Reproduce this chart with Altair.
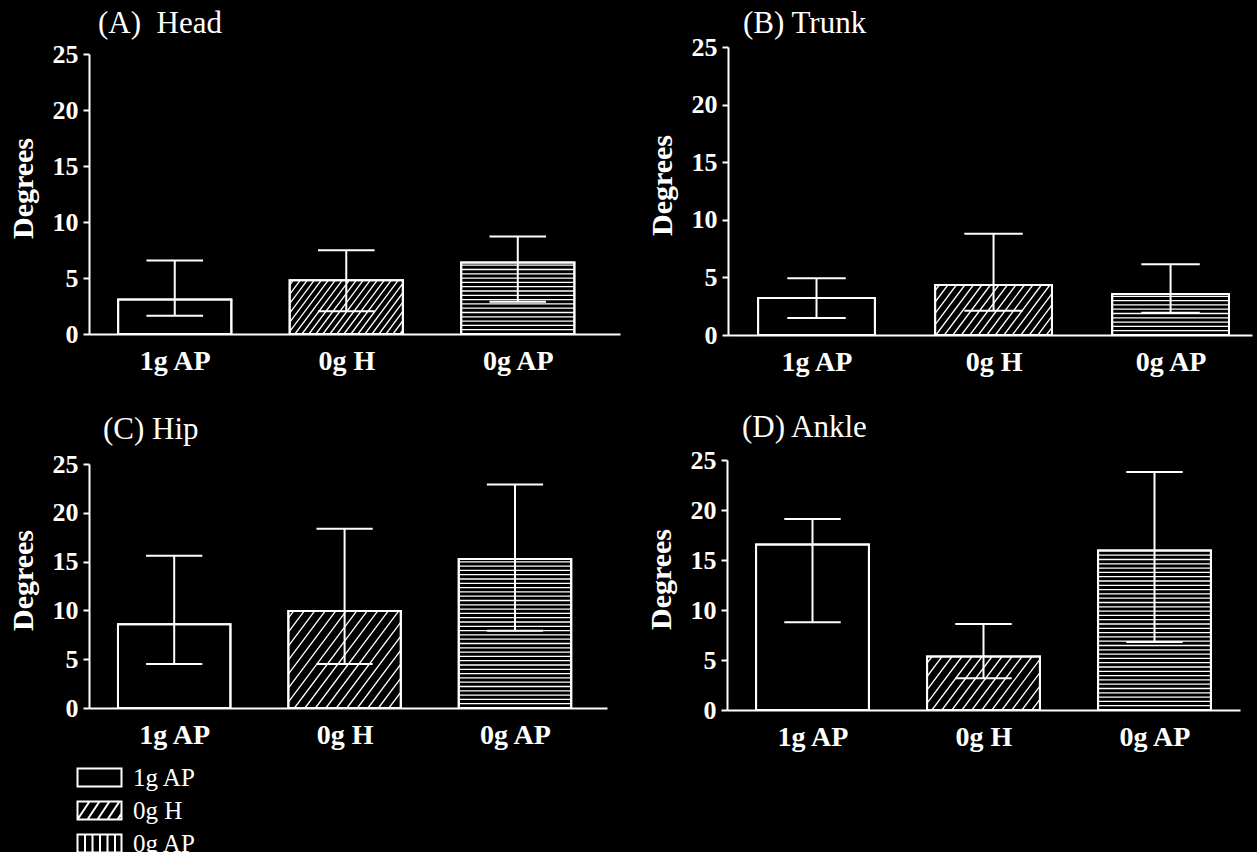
import json
import altair as alt
import pandas as pd

# ---------------- data ----------------
CATEGORIES = ["1g AP", "0g H", "0g AP"]
PANEL_TITLES = ["(A)\u00a0\u00a0Head", "(B) Trunk", "(C) Hip", "(D) Ankle"]
Y_TICKS = [0, 5, 10, 15, 20, 25]
Y_MAX = 25

HEAD_MEAN = [3.08, 4.79, 6.38]
HEAD_LOW = [1.64, 2.04, 2.87]
HEAD_HIGH = [6.56, 7.48, 8.70]

TRUNK_MEAN = [3.21, 4.34, 3.56]
TRUNK_LOW = [1.48, 2.11, 1.94]
TRUNK_HIGH = [4.92, 8.79, 6.14]

HIP_MEAN = [8.57, 9.93, 15.27]
HIP_LOW = [4.52, 4.52, 7.92]
HIP_HIGH = [15.6, 18.37, 22.9]

ANKLE_MEAN = [16.54, 5.35, 15.96]
ANKLE_LOW = [8.77, 3.18, 6.80]
ANKLE_HIGH = [19.1, 8.6, 23.8]

# ---------------- style ----------------
FONT = "Liberation Serif"
PATTERNS = ["none", "diagonal", "horizontal"]
BAR_HALF = 0.33
CAP_HALF = BAR_HALF / 2
H_SPACING_PX = 4.3
DIAG_SLOPE = 0.75  # horizontal px per vertical px

# h = axis height in px, top = empty px above the axis inside the view
LAYOUT = [
    dict(w=531, h=280, top=7, x1=3.596, diag=7.0, dx=9, offset=1),
    dict(w=524, h=288, top=0, x1=3.46, diag=8.5, dx=15, offset=-6),
    dict(w=518, h=244, top=4, x1=3.54, diag=10.5, dx=14, offset=5),
    dict(w=513, h=250, top=0, x1=3.50, diag=10.0, dx=15, offset=3),
]

# legend symbol paths (unit = sqrt(size)/2 px)
RECT = "M-2.2,-0.9H2.2V0.9H-2.2Z"
DIAG_PATH = RECT + "".join(
    f"M{b:.2f},0.9L{b + 1.2:.2f},-0.9" for b in [-2.2, -1.2, -0.2, 0.8]
) + "M1.8,0.9L2.2,0.3"
VERT_PATH = RECT + "".join(f"M{v:.2f},-0.9V0.9" for v in [-1.45, -0.7, 0.05, 0.8, 1.55])
LEGEND_PATHS = [RECT, DIAG_PATH, VERT_PATH]


def hatch_rows(pos, mean, pattern, lay, x0):
    sx = lay["w"] / (lay["x1"] - x0)
    sy = lay["h"] / Y_MAX
    rows = []
    left, right = pos - BAR_HALF, pos + BAR_HALF
    if pattern == "horizontal":
        d = H_SPACING_PX / sy
        k = 1
        while k * d < mean - 0.3 * d:
            rows.append(dict(hx=left, hx2=right, hy=k * d, hy2=k * d))
            k += 1
    elif pattern == "diagonal":
        L = (left - x0) * sx
        R = (right - x0) * sx
        H = mean * sy
        a = L - DIAG_SLOPE * H + lay["diag"] / 2
        while a < R:
            ylo = max(0.0, (L - a) / DIAG_SLOPE)
            yhi = min(H, (R - a) / DIAG_SLOPE)
            if yhi - ylo > 0.8:
                xa = a + DIAG_SLOPE * ylo
                xb = a + DIAG_SLOPE * yhi
                rows.append(dict(hx=xa / sx + x0, hx2=xb / sx + x0, hy=ylo / sy, hy2=yhi / sy))
            a += lay["diag"]
    return rows


def panel(title, means, lows, highs, lay, with_legend=False):
    x0 = 0.5
    view_h = lay["h"] + lay["top"]
    xscale = alt.Scale(domain=[x0, lay["x1"]], nice=False, zero=False)
    yscale = alt.Scale(domain=[0, Y_MAX], nice=False, zero=True, range=[view_h, lay["top"]])
    df = pd.DataFrame({
        "cat": CATEGORIES,
        "pos": list(range(1, len(CATEGORIES) + 1)),
        "mean": means,
        "low": lows,
        "high": highs,
    })
    hrows = []
    for p, m, pat in zip(df["pos"], df["mean"], PATTERNS):
        hrows += hatch_rows(p, m, pat, lay, x0)
    hdf = pd.DataFrame(hrows)

    label_expr = f"{json.dumps(CATEGORIES)}[round(datum.value) - 1]"
    base = alt.Chart(df).transform_calculate(
        left=f"datum.pos - {BAR_HALF}",
        right=f"datum.pos + {BAR_HALF}",
        capl=f"datum.pos - {CAP_HALF}",
        capr=f"datum.pos + {CAP_HALF}",
        zero="0",
    )
    bars = base.mark_rect(fill="black", stroke="white", strokeWidth=2).encode(
        x=alt.X("left:Q", scale=xscale, title=None,
                axis=alt.Axis(values=list(range(1, len(CATEGORIES) + 1)), labelExpr=label_expr)),
        x2="right:Q",
        y=alt.Y("mean:Q", scale=yscale, title="Degrees",
                axis=alt.Axis(values=Y_TICKS, titleY=lay["top"] + lay["h"] / 2 - 6)),
        y2="zero:Q",
    )
    hatch = alt.Chart(hdf).mark_rule(color="white", strokeWidth=1.3).encode(
        x=alt.X("hx:Q", scale=xscale), x2="hx2:Q",
        y=alt.Y("hy:Q", scale=yscale), y2="hy2:Q",
    )
    outline = base.mark_rect(fill=None, stroke="white", strokeWidth=2, filled=False).encode(
        x=alt.X("left:Q", scale=xscale), x2="right:Q",
        y=alt.Y("mean:Q", scale=yscale), y2="zero:Q",
    )
    err = base.mark_rule(color="white", strokeWidth=2).encode(
        x=alt.X("pos:Q", scale=xscale), y=alt.Y("low:Q", scale=yscale), y2="high:Q",
    )
    cap_lo = base.mark_rule(color="white", strokeWidth=2).encode(
        x=alt.X("capl:Q", scale=xscale), x2="capr:Q", y=alt.Y("low:Q", scale=yscale),
    )
    cap_hi = base.mark_rule(color="white", strokeWidth=2).encode(
        x=alt.X("capl:Q", scale=xscale), x2="capr:Q", y=alt.Y("high:Q", scale=yscale),
    )
    layers = [bars, hatch, outline, err, cap_lo, cap_hi]
    if with_legend:
        pts = base.mark_point(filled=False, color="white", opacity=0).encode(
            x=alt.X("pos:Q", scale=xscale),
            y=alt.Y("mean:Q", scale=yscale),
            shape=alt.Shape("cat:N", scale=alt.Scale(domain=CATEGORIES, range=LEGEND_PATHS),
                            legend=alt.Legend(title=None)),
        )
        layers.append(pts)
    return alt.layer(*layers).properties(
        width=lay["w"], height=view_h,
        title=alt.TitleParams(title, dx=lay["dx"], offset=lay["offset"]),
    )


pA = panel(PANEL_TITLES[0], HEAD_MEAN, HEAD_LOW, HEAD_HIGH, LAYOUT[0])
pB = panel(PANEL_TITLES[1], TRUNK_MEAN, TRUNK_LOW, TRUNK_HIGH, LAYOUT[1])
pC = panel(PANEL_TITLES[2], HIP_MEAN, HIP_LOW, HIP_HIGH, LAYOUT[2], with_legend=True)
pD = panel(PANEL_TITLES[3], ANKLE_MEAN, ANKLE_LOW, ANKLE_HIGH, LAYOUT[3])

chart = alt.vconcat(
    alt.hconcat(pA, pB, spacing=27),
    alt.hconcat(pC, pD, spacing=39),
    spacing=36,
).properties(
    background="black",
    padding={"left": 8, "top": 8, "right": 5, "bottom": 0},
).configure_view(stroke=None).configure_axis(
    domainColor="white", domainWidth=2, tickColor="white", tickWidth=2, tickSize=6,
    labelColor="white", labelFont=FONT, labelFontWeight="bold", labelFontSize=26,
    titleColor="white", titleFont=FONT, titleFontSize=30, titleFontWeight="bold",
    grid=False, labelFlush=False, labelOverlap=False, labelPadding=5, titlePadding=14,
).configure_axisX(
    ticks=False, labelFontSize=28, labelPadding=13,
).configure_title(
    font=FONT, fontSize=31, fontWeight="normal", color="white", anchor="start", frame="group",
).configure_legend(
    orient="none", legendX=-2, legendY=718,
    labelFont=FONT, labelFontSize=25, labelColor="white",
    symbolSize=400, symbolStrokeWidth=2, symbolStrokeColor="white", symbolFillColor="black",
    symbolOpacity=1, rowPadding=6, labelOffset=21,
)

chart.save("out.html", embed_options={"renderer": "svg", "actions": False})
